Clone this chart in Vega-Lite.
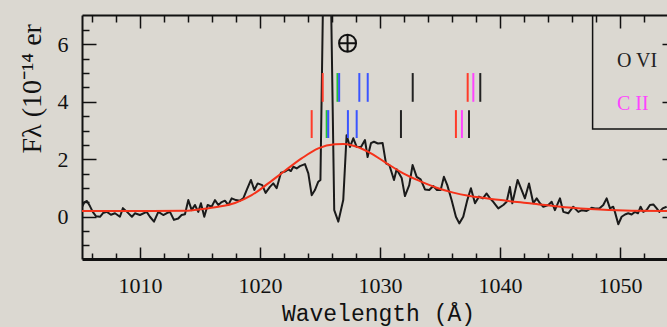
{
  "$schema": "https://vega.github.io/schema/vega-lite/v6.json",
  "width": 585,
  "height": 244,
  "autosize": {"type": "none"},
  "padding": {"left": 82, "top": 15, "right": 0, "bottom": 68},
  "background": "#dbd8d1",
  "config": {
    "view": {"stroke": null},
    "axis": {"grid": false, "tickColor": "#111", "domainColor": "#111", "labelColor": "#111", "titleColor": "#111", "tickWidth": 1.5, "labelFlush": false, "labelOverlap": false}
  },
  "datasets": {
    "spec": [
      {"w": 1005.17, "f": 0.34}, {"w": 1005.38, "f": 0.51}, {"w": 1005.58, "f": 0.55}, {"w": 1005.83, "f": 0.37},
      {"w": 1006.08, "f": 0.16}, {"w": 1006.33, "f": 0.02}, {"w": 1006.67, "f": 0.0}, {"w": 1006.92, "f": 0.13},
      {"w": 1007.25, "f": 0.17}, {"w": 1007.58, "f": 0.07}, {"w": 1007.92, "f": 0.12}, {"w": 1008.33, "f": 0.0},
      {"w": 1008.58, "f": 0.30}, {"w": 1008.92, "f": 0.17}, {"w": 1009.33, "f": 0.0}, {"w": 1009.58, "f": 0.12},
      {"w": 1010.0, "f": 0.06}, {"w": 1010.56, "f": 0.17}, {"w": 1010.83, "f": 0.0}, {"w": 1011.17, "f": -0.17},
      {"w": 1011.53, "f": 0.17}, {"w": 1011.94, "f": 0.06}, {"w": 1012.25, "f": 0.13}, {"w": 1012.5, "f": 0.17},
      {"w": 1012.83, "f": -0.11}, {"w": 1013.19, "f": -0.06}, {"w": 1013.47, "f": 0.06}, {"w": 1013.75, "f": 0.09},
      {"w": 1014.03, "f": 0.58}, {"w": 1014.31, "f": 0.23}, {"w": 1014.58, "f": 0.41}, {"w": 1014.86, "f": 0.17},
      {"w": 1015.08, "f": 0.47}, {"w": 1015.36, "f": 0.0}, {"w": 1015.64, "f": 0.41}, {"w": 1015.97, "f": 0.35},
      {"w": 1016.25, "f": 0.58}, {"w": 1016.53, "f": 0.41}, {"w": 1016.81, "f": 0.51}, {"w": 1017.08, "f": 0.56},
      {"w": 1017.36, "f": 0.41}, {"w": 1017.64, "f": 0.64}, {"w": 1018.0, "f": 0.58}, {"w": 1018.33, "f": 0.56},
      {"w": 1018.61, "f": 0.64}, {"w": 1018.89, "f": 0.93}, {"w": 1019.25, "f": 1.28}, {"w": 1019.53, "f": 0.93},
      {"w": 1019.81, "f": 1.16}, {"w": 1020.19, "f": 1.10}, {"w": 1020.47, "f": 0.83}, {"w": 1020.83, "f": 1.04},
      {"w": 1021.11, "f": 1.16}, {"w": 1021.39, "f": 0.99}, {"w": 1021.75, "f": 1.53}, {"w": 1022.08, "f": 1.57},
      {"w": 1022.36, "f": 1.65}, {"w": 1022.58, "f": 1.59}, {"w": 1022.78, "f": 1.74}, {"w": 1023.06, "f": 1.68},
      {"w": 1023.33, "f": 1.76}, {"w": 1023.75, "f": 1.83}, {"w": 1024.03, "f": 1.51}, {"w": 1024.31, "f": 0.75},
      {"w": 1024.58, "f": 0.93}, {"w": 1024.86, "f": 1.22}, {"w": 1025.04, "f": 1.28}, {"w": 1025.58, "f": 17.0},
      {"w": 1026.19, "f": 0.23}, {"w": 1026.53, "f": -0.17}, {"w": 1026.94, "f": 0.58}, {"w": 1027.22, "f": 2.84},
      {"w": 1027.5, "f": 2.43}, {"w": 1027.78, "f": 2.73}, {"w": 1028.06, "f": 2.43}, {"w": 1028.42, "f": 2.43},
      {"w": 1028.75, "f": 2.67}, {"w": 1028.97, "f": 2.08}, {"w": 1029.25, "f": 2.56}, {"w": 1029.5, "f": 2.61},
      {"w": 1029.83, "f": 2.55}, {"w": 1030.22, "f": 2.57}, {"w": 1030.5, "f": 1.86}, {"w": 1030.78, "f": 1.80},
      {"w": 1031.17, "f": 1.28}, {"w": 1031.39, "f": 1.65}, {"w": 1031.81, "f": 1.35}, {"w": 1032.08, "f": 0.72},
      {"w": 1032.44, "f": 1.10}, {"w": 1032.72, "f": 1.80}, {"w": 1033.06, "f": 1.39}, {"w": 1033.39, "f": 1.30},
      {"w": 1033.75, "f": 0.95}, {"w": 1034.11, "f": 0.93}, {"w": 1034.44, "f": 1.07}, {"w": 1034.75, "f": 0.93},
      {"w": 1035.06, "f": 0.93}, {"w": 1035.33, "f": 1.39}, {"w": 1035.61, "f": 1.10}, {"w": 1035.97, "f": 0.58},
      {"w": 1036.33, "f": 0.0}, {"w": 1036.61, "f": -0.23}, {"w": 1036.94, "f": 0.0}, {"w": 1037.28, "f": 0.58},
      {"w": 1037.58, "f": 0.99}, {"w": 1037.92, "f": 0.47}, {"w": 1038.25, "f": 0.70}, {"w": 1038.58, "f": 0.64},
      {"w": 1038.89, "f": 0.81}, {"w": 1039.17, "f": 0.64}, {"w": 1039.44, "f": 0.52}, {"w": 1039.86, "f": 0.29},
      {"w": 1040.28, "f": 0.41}, {"w": 1040.56, "f": 0.52}, {"w": 1040.83, "f": 1.04}, {"w": 1041.03, "f": 0.47},
      {"w": 1041.47, "f": 1.28}, {"w": 1041.81, "f": 0.93}, {"w": 1042.08, "f": 0.64}, {"w": 1042.42, "f": 1.16},
      {"w": 1042.78, "f": 0.47}, {"w": 1043.06, "f": 0.64}, {"w": 1043.33, "f": 0.47}, {"w": 1043.61, "f": 0.35},
      {"w": 1044.03, "f": 0.41}, {"w": 1044.31, "f": 0.52}, {"w": 1044.58, "f": 0.23}, {"w": 1045.0, "f": 0.64},
      {"w": 1045.28, "f": 0.17}, {"w": 1045.69, "f": 0.12}, {"w": 1046.11, "f": 0.35}, {"w": 1046.53, "f": 0.17},
      {"w": 1046.83, "f": 0.23}, {"w": 1047.22, "f": 0.20}, {"w": 1047.64, "f": 0.31}, {"w": 1047.92, "f": 0.29},
      {"w": 1048.28, "f": 0.29}, {"w": 1048.61, "f": 0.41}, {"w": 1048.89, "f": 0.64}, {"w": 1049.17, "f": 0.29},
      {"w": 1049.44, "f": 0.35}, {"w": 1049.58, "f": 0.17}, {"w": 1049.86, "f": -0.26}, {"w": 1050.14, "f": 0.0},
      {"w": 1050.42, "f": 0.08}, {"w": 1050.69, "f": 0.12}, {"w": 1050.97, "f": 0.08}, {"w": 1051.25, "f": 0.17},
      {"w": 1051.5, "f": 0.12}, {"w": 1051.72, "f": 0.35}, {"w": 1051.94, "f": 0.17}, {"w": 1052.22, "f": 0.23},
      {"w": 1052.5, "f": 0.41}, {"w": 1052.78, "f": 0.43}, {"w": 1053.06, "f": 0.29}, {"w": 1053.28, "f": 0.17},
      {"w": 1053.56, "f": 0.29}, {"w": 1053.89, "f": 0.35}
    ],
    "model": [
      {"w": 1005.17, "f": 0.2}, {"w": 1008, "f": 0.2}, {"w": 1011, "f": 0.2}, {"w": 1013.75, "f": 0.21},
      {"w": 1015.2, "f": 0.27}, {"w": 1016.53, "f": 0.35}, {"w": 1017.92, "f": 0.48}, {"w": 1019.31, "f": 0.75},
      {"w": 1020.69, "f": 1.16}, {"w": 1022.08, "f": 1.6}, {"w": 1023.47, "f": 2.03}, {"w": 1024.86, "f": 2.38},
      {"w": 1026.25, "f": 2.52}, {"w": 1026.94, "f": 2.53}, {"w": 1027.64, "f": 2.49}, {"w": 1029.03, "f": 2.26},
      {"w": 1030.56, "f": 1.86}, {"w": 1031.94, "f": 1.51}, {"w": 1033.33, "f": 1.24}, {"w": 1034.72, "f": 1.01},
      {"w": 1036.11, "f": 0.84}, {"w": 1037.5, "f": 0.72}, {"w": 1039.86, "f": 0.59}, {"w": 1042.64, "f": 0.46},
      {"w": 1045.42, "f": 0.33}, {"w": 1048.33, "f": 0.25}, {"w": 1051, "f": 0.21}, {"w": 1053.92, "f": 0.2}
    ],
    "lines": [
      {"w": 1025.23, "lo": 4.0, "hi": 5.0, "ion": "a"},
      {"w": 1026.46, "lo": 4.0, "hi": 5.0, "ion": "b"},
      {"w": 1026.6, "lo": 4.0, "hi": 5.0, "ion": "c"},
      {"w": 1028.28, "lo": 4.0, "hi": 5.0, "ion": "c"},
      {"w": 1028.98, "lo": 4.0, "hi": 5.0, "ion": "c"},
      {"w": 1032.73, "lo": 4.0, "hi": 5.0, "ion": "O VI"},
      {"w": 1037.31, "lo": 4.0, "hi": 5.0, "ion": "a"},
      {"w": 1037.78, "lo": 4.0, "hi": 5.0, "ion": "C II"},
      {"w": 1038.36, "lo": 4.0, "hi": 5.0, "ion": "O VI"},
      {"w": 1024.31, "lo": 2.74, "hi": 3.71, "ion": "a"},
      {"w": 1025.56, "lo": 2.74, "hi": 3.71, "ion": "b"},
      {"w": 1025.69, "lo": 2.74, "hi": 3.71, "ion": "c"},
      {"w": 1027.33, "lo": 2.74, "hi": 3.71, "ion": "c"},
      {"w": 1028.06, "lo": 2.74, "hi": 3.71, "ion": "c"},
      {"w": 1031.75, "lo": 2.74, "hi": 3.71, "ion": "O VI"},
      {"w": 1036.33, "lo": 2.74, "hi": 3.71, "ion": "a"},
      {"w": 1036.83, "lo": 2.74, "hi": 3.71, "ion": "C II"},
      {"w": 1037.42, "lo": 2.74, "hi": 3.71, "ion": "O VI"}
    ],
    "box": [{"w1": 1047.72, "w2": 1062, "f1": 3.05, "f2": 7.6}],
    "legend": [
      {"w": 1049.75, "f": 5.42, "label": "O VI"},
      {"w": 1049.75, "f": 3.92, "label": "C II"}
    ],
    "earth": [{"w": 1027.3, "f": 6.04}]
  },
  "resolve": {"axis": {"x": "independent", "y": "independent"}},
  "layer": [
    {
      "data": {"name": "spec"},
      "mark": {"type": "line", "clip": true, "color": "#1a1a1a", "strokeWidth": 2, "strokeJoin": "round"},
      "encoding": {
        "x": {"field": "w", "type": "quantitative", "scale": {"domain": [1005.17, 1053.92], "nice": false, "zero": false},
          "axis": {"orient": "bottom", "values": [1010, 1020, 1030, 1040, 1050], "format": "d", "tickSize": -12, "domainWidth": 3,
            "labelFont": "Liberation Serif", "labelFontSize": 22, "labelPadding": 28,
            "title": "Wavelength (Å)", "titleFont": "Liberation Mono", "titleFontSize": 23, "titleFontWeight": "normal",
            "titleX": 296, "titleY": 61, "titleBaseline": "alphabetic", "titleAnchor": "middle"}},
        "y": {"field": "f", "type": "quantitative", "scale": {"domain": [-1.47, 7.02], "nice": false, "zero": false},
          "axis": {"orient": "left", "values": [0, 2, 4, 6], "format": "d", "tickSize": -14, "domainWidth": 2,
            "labelFont": "Liberation Serif", "labelFontSize": 22, "labelPadding": 28,
            "title": "Fλ (10⁻¹⁴ er", "titleFont": "Liberation Serif", "titleFontSize": 28, "titleFontWeight": "normal",
            "titleAngle": -90, "titleX": -42, "titleY": 138, "titleAlign": "left", "titleBaseline": "alphabetic"}}
      }
    },
    {
      "data": {"name": "model"},
      "mark": {"type": "line", "clip": true, "color": "#f5321a", "strokeWidth": 2, "interpolate": "monotone"},
      "encoding": {
        "x": {"field": "w", "type": "quantitative", "scale": {"domain": [1005.17, 1053.92], "nice": false, "zero": false},
          "axis": {"orient": "bottom", "values": [1006, 1008, 1012, 1014, 1016, 1018, 1022, 1024, 1026, 1028, 1032, 1034, 1036, 1038, 1042, 1044, 1046, 1048, 1052],
            "tickSize": -6, "labels": false, "domain": false, "title": null}},
        "y": {"field": "f", "type": "quantitative", "scale": {"domain": [-1.47, 7.02], "nice": false, "zero": false},
          "axis": {"orient": "left", "values": [-1, -0.5, 0.5, 1, 1.5, 2.5, 3, 3.5, 4.5, 5, 5.5, 6.5],
            "tickSize": -7, "labels": false, "domain": false, "title": null}}
      }
    },
    {
      "data": {"name": "lines"},
      "mark": {"type": "rule", "strokeWidth": 2},
      "encoding": {
        "x": {"field": "w", "type": "quantitative", "scale": {"domain": [1005.17, 1053.92], "nice": false, "zero": false},
          "axis": {"orient": "top", "values": [1010, 1020, 1030, 1040, 1050], "tickSize": -13, "labels": false, "domainWidth": 2, "title": null}},
        "y": {"field": "lo", "type": "quantitative", "scale": {"domain": [-1.47, 7.02], "nice": false, "zero": false},
          "axis": {"orient": "right", "values": [0, 2, 4, 6], "tickSize": -5, "labels": false, "domain": false, "title": null}},
        "y2": {"field": "hi"},
        "color": {"field": "ion", "type": "nominal", "legend": null,
          "scale": {"domain": ["a", "b", "c", "O VI", "C II"], "range": ["#ff3b2a", "#22c233", "#3a55ff", "#222222", "#ff44ff"]}}
      }
    },
    {
      "data": {"name": "box"},
      "mark": {"type": "rect", "clip": true, "fill": null, "stroke": "#111", "strokeWidth": 1.5},
      "encoding": {
        "x": {"field": "w1", "type": "quantitative", "scale": {"domain": [1005.17, 1053.92], "nice": false, "zero": false},
          "axis": {"orient": "top", "values": [1006, 1008, 1012, 1014, 1016, 1018, 1022, 1024, 1026, 1028, 1032, 1034, 1036, 1038, 1042, 1044, 1046, 1048, 1052],
            "tickSize": -7, "labels": false, "domain": false, "title": null}},
        "x2": {"field": "w2"},
        "y": {"field": "f1", "type": "quantitative", "scale": {"domain": [-1.47, 7.02], "nice": false, "zero": false}, "axis": null},
        "y2": {"field": "f2"}
      }
    },
    {
      "mark": {"type": "rule", "color": "#f0462c", "strokeWidth": 2, "strokeDash": [10, 6]},
      "encoding": {
        "y": {"datum": 0.2, "type": "quantitative", "axis": null}
      }
    },
    {
      "data": {"name": "legend"},
      "mark": {"type": "text", "align": "left", "baseline": "middle", "font": "Liberation Serif", "fontSize": 20},
      "encoding": {
        "x": {"field": "w", "type": "quantitative", "axis": null},
        "y": {"field": "f", "type": "quantitative", "axis": null},
        "text": {"field": "label"},
        "color": {"field": "label", "type": "nominal", "legend": null,
          "scale": {"domain": ["a", "b", "c", "O VI", "C II"], "range": ["#ff3b2a", "#22c233", "#3a55ff", "#111111", "#ff44ff"]}}
      }
    },
    {
      "data": {"name": "earth"},
      "mark": {"type": "point", "shape": "M -1 0 A 1 1 0 1 1 1 0 A 1 1 0 1 1 -1 0 Z M -1 0 L 1 0 M 0 -1 L 0 1", "size": 289, "filled": false, "stroke": "#111", "strokeWidth": 2, "opacity": 1},
      "encoding": {
        "x": {"field": "w", "type": "quantitative", "axis": null},
        "y": {"field": "f", "type": "quantitative", "axis": null}
      }
    }
  ]
}
